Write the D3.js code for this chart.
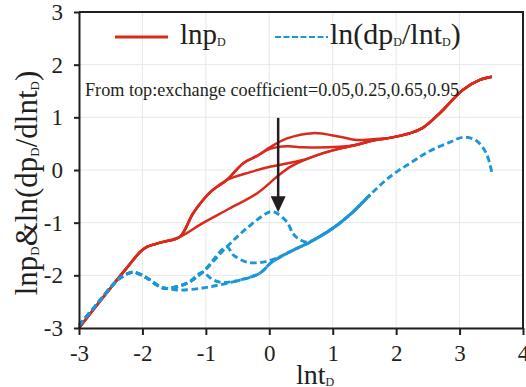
<!DOCTYPE html>
<html>
<head>
<meta charset="utf-8">
<script src="https://cdn.jsdelivr.net/npm/d3@7"></script>
<style>
  body { margin: 0; background: #fff; }
  text { font-family: "Liberation Serif", "Times New Roman", serif; fill: #231f20; }
</style>
</head>
<body>
<script>
var w = 526;
var h = 387;
var margin = {top: 12, right: 3, bottom: 59, left: 79};

// tick values
var xTicks = [-3, -2, -1, 0, 1, 2, 3, 4];
var yTicks = [-3, -2, -1, 0, 1, 2, 3];

// lnpD curves, shared start and end
var redHead = [[-3, -3], [-2.7, -2.54], [-2.43, -2.13], [-2.2, -1.79], [-2.04, -1.56], [-1.93, -1.46], [-1.69, -1.37], [-1.41, -1.27]];
var redTail = [[1.9, 0.61], [2.22, 0.70], [2.42, 0.80], [2.69, 1.08], [3.05, 1.52], [3.32, 1.71], [3.51, 1.77]];
var red005 = [[-1.2, -0.82], [-0.93, -0.42], [-0.67, -0.19], [-0.41, 0.13], [-0.19, 0.27], [0.01, 0.43], [0.28, 0.6], [0.69, 0.70], [1.11, 0.63], [1.38, 0.57], [1.67, 0.59]];
var red025 = [[-1.2, -0.82], [-0.93, -0.42], [-0.67, -0.19], [-0.41, 0.13], [-0.19, 0.27], [0.01, 0.40], [0.28, 0.45], [0.53, 0.43], [1.11, 0.44], [1.38, 0.48], [1.67, 0.57]];
var red065 = [[-1.2, -0.82], [-0.93, -0.42], [-0.67, -0.19], [-0.30, -0.04], [0.01, 0.06], [0.53, 0.19], [0.85, 0.32], [1.16, 0.42], [1.38, 0.48], [1.67, 0.57]];
var red095 = [[-1.05, -1.01], [-0.67, -0.76], [-0.19, -0.44], [0.12, -0.13], [0.33, 0.06], [0.64, 0.23], [0.85, 0.32], [1.16, 0.42], [1.38, 0.48], [1.67, 0.57]];

// ln(dpD/dlntD) curves
var blueHead = [[-3, -2.95], [-2.7, -2.52], [-2.43, -2.13], [-2.35, -2.05], [-2.15, -1.94], [-1.93, -2.05], [-1.72, -2.22], [-1.61, -2.25]];
var blueBase = [[-1.41, -2.28], [-1.05, -2.24], [-0.78, -2.18], [-0.46, -2.09], [-0.15, -1.96], [0.03, -1.76], [0.33, -1.55], [0.64, -1.37], [0.96, -1.14], [1.27, -0.85], [1.59, -0.47], [1.9, -0.13], [2.22, 0.13], [2.53, 0.36], [2.85, 0.53], [3.05, 0.62], [3.25, 0.57], [3.42, 0.32], [3.51, -0.06]];
var blue005 = [[-1.3, -2.15], [-1.05, -1.94], [-0.67, -1.46], [-0.35, -1.10], [-0.04, -0.82], [0.04, -0.79], [0.12, -0.82], [0.28, -0.99], [0.37, -1.20], [0.44, -1.29], [0.59, -1.37], [0.69, -1.33]];
var blue025 = [[-1.3, -2.15], [-1.05, -1.94], [-0.67, -1.46], [-0.57, -1.61], [-0.35, -1.75], [-0.1, -1.75], [0.12, -1.67], [0.33, -1.55]];
var blue065 = [[-1.3, -2.15], [-1.05, -1.94], [-0.93, -2.05], [-0.78, -2.13], [-0.46, -2.09]];
var blueShortEnd = 1.65;   // the three upper dashed runs stop here

// arrow (x, yTop, yTip)
var arrowX = 0.14, arrowTop = 0.99, arrowTip = -0.8;

function between(arr, x0, x1) {
    return arr.filter(function (d) { return d[0] > x0 && d[0] <= x1; });
}

var redCurves = [
    redHead.concat(red005, redTail),
    redHead.concat(red025, redTail),
    redHead.concat(red065, redTail),
    redHead.concat(red095, redTail)
];
var blueCurves = [
    blueHead.concat(blue005, between(blueBase, 0.69, blueShortEnd)),
    blueHead.concat(blue025, between(blueBase, 0.33, blueShortEnd)),
    blueHead.concat(blue065, between(blueBase, -0.46, blueShortEnd)),
    blueHead.concat(blueBase)
];

var svg = d3.select("body")
    .append("svg")
    .attr("width", w)
    .attr("height", h);

var g = svg.append("g")
    .attr("transform", "translate(" + margin.left + "," + margin.top + ")");

var xScale = d3.scaleLinear().domain([-3, 4]).range([0, 444]);
var yScale = d3.scaleLinear().domain([-3, 3]).range([316, 0]);

// grid
g.selectAll(".vgrid")
    .data(xTicks)
    .enter()
    .append("line")
    .attr("x1", function (d) { return xScale(d); })
    .attr("x2", function (d) { return xScale(d); })
    .attr("y1", 0)
    .attr("y2", 316)
    .attr("stroke", "#e8e8e8");
g.selectAll(".hgrid")
    .data(yTicks)
    .enter()
    .append("line")
    .attr("x1", 0)
    .attr("x2", 444)
    .attr("y1", function (d) { return yScale(d); })
    .attr("y2", function (d) { return yScale(d); })
    .attr("stroke", "#e8e8e8");

var line = d3.line()
    .x(function (d) { return xScale(d[0]); })
    .y(function (d) { return yScale(d[1]); })
    .curve(d3.curveCatmullRom.alpha(0.5));

g.selectAll(".red")
    .data(redCurves)
    .enter()
    .append("path")
    .attr("d", line)
    .attr("fill", "none")
    .attr("stroke", "#da2a1c")
    .attr("stroke-width", 2.5);

g.selectAll(".blue")
    .data(blueCurves)
    .enter()
    .append("path")
    .attr("d", line)
    .attr("fill", "none")
    .attr("stroke", "#1b96d8")
    .attr("stroke-width", 2.9)
    .attr("stroke-dasharray", "6.5,3.5");

// arrow
g.append("line")
    .attr("x1", xScale(arrowX))
    .attr("x2", xScale(arrowX))
    .attr("y1", yScale(arrowTop))
    .attr("y2", yScale(arrowTip) - 14)
    .attr("stroke", "#231f20")
    .attr("stroke-width", 2.5);
g.append("path")
    .attr("d", "M" + (xScale(arrowX) - 7.5) + "," + (yScale(arrowTip) - 16) +
        "L" + (xScale(arrowX) + 7.5) + "," + (yScale(arrowTip) - 16) +
        "L" + xScale(arrowX) + "," + yScale(arrowTip) + "Z")
    .attr("fill", "#231f20");

// axes
var fmt = function (d) { return String(d); };
var xAxis = d3.axisBottom(xScale).tickValues(xTicks).tickFormat(fmt).tickSize(7).tickSizeOuter(0).tickPadding(10);
var yAxis = d3.axisLeft(yScale).tickValues(yTicks).tickFormat(fmt).tickSize(5).tickSizeOuter(0).tickPadding(11);

var gx = g.append("g")
    .attr("transform", "translate(0,316)")
    .call(xAxis);
var gy = g.append("g")
    .call(yAxis);

[gx, gy].forEach(function (a) {
    a.attr("font-family", "Liberation Serif").attr("font-size", 23);
    a.selectAll("path, line").attr("stroke", "#231f20").attr("stroke-width", 2);
    a.selectAll("text").attr("fill", "#231f20").style("font-family", "Liberation Serif");
});

// top and right border
g.append("path")
    .attr("d", "M0,0H444V316")
    .attr("fill", "none")
    .attr("stroke", "#231f20")
    .attr("stroke-width", 2);

// legend
g.append("line")
    .attr("x1", 36).attr("x2", 89)
    .attr("y1", 25).attr("y2", 25)
    .attr("stroke", "#da2a1c").attr("stroke-width", 3);
var l1 = g.append("text").attr("x", 101).attr("y", 32).attr("font-size", 29);
l1.append("tspan").text("lnp");
l1.append("tspan").text("D").attr("font-size", 12).attr("dy", 2);

g.append("line")
    .attr("x1", 196).attr("x2", 249)
    .attr("y1", 25).attr("y2", 25)
    .attr("stroke", "#1b96d8").attr("stroke-width", 2.2)
    .attr("stroke-dasharray", "6,2.5");
var l2 = g.append("text").attr("x", 251).attr("y", 32).attr("font-size", 30);
l2.append("tspan").text("ln(dp");
l2.append("tspan").text("D").attr("font-size", 12).attr("dy", 2);
l2.append("tspan").text("/lnt").attr("dy", -2);
l2.append("tspan").text("D").attr("font-size", 12).attr("dy", 2);
l2.append("tspan").text(")").attr("dy", -2);

// annotation
g.append("text")
    .attr("x", 6)
    .attr("y", 84)
    .attr("font-size", 18.2)
    .text("From top:exchange coefficient=0.05,0.25,0.65,0.95");

// axis titles
var xt = svg.append("text")
    .attr("x", 296)
    .attr("y", 384)
    .attr("font-size", 28);
xt.append("tspan").text("lnt");
xt.append("tspan").text("D").attr("font-size", 12).attr("dy", 2);

var yt = svg.append("text")
    .attr("transform", "translate(37,183) rotate(-90)")
    .attr("text-anchor", "middle")
    .attr("font-size", 31);
yt.append("tspan").text("lnp");
yt.append("tspan").text("D").attr("font-size", 13).attr("dy", 2);
yt.append("tspan").text("&ln(dp").attr("dy", -2);
yt.append("tspan").text("D").attr("font-size", 13).attr("dy", 2);
yt.append("tspan").text("/dlnt").attr("dy", -2);
yt.append("tspan").text("D").attr("font-size", 13).attr("dy", 2);
yt.append("tspan").text(")").attr("dy", -2);
</script>
</body>
</html>
